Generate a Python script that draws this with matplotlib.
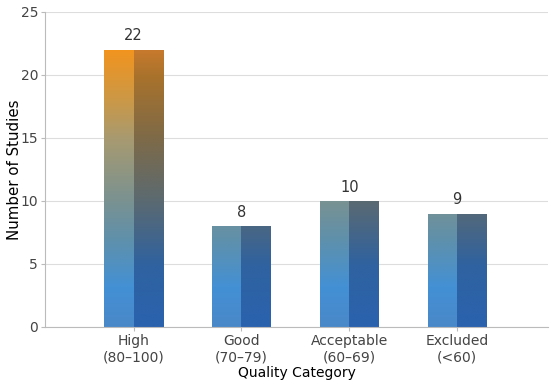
import numpy as np
import matplotlib
matplotlib.use('Agg')
import matplotlib.pyplot as plt
from matplotlib.colors import LinearSegmentedColormap
from matplotlib.patches import Rectangle

categories = ['High\n(80–100)', 'Good\n(70–79)', 'Acceptable\n(60–69)', 'Excluded\n(<60)']
counts = [22, 8, 10, 9]

# gradient colours follow the value axis (0 -> 22)
left_stops = [(0.0, '#4a88c8'), (0.14, '#4390d5'), (0.32, '#6090aa'),
              (0.46, '#7b9290'), (0.68, '#a89a70'), (0.82, '#cc9846'), (1.0, '#f2941e')]
right_stops = [(0.0, '#2a62ae'), (0.22, '#2f62a0'), (0.46, '#5c6a70'),
               (0.68, '#7e6a48'), (0.9, '#a8722c'), (1.0, '#c87a2c')]
cmap_l = LinearSegmentedColormap.from_list('l', left_stops)
cmap_r = LinearSegmentedColormap.from_list('r', right_stops)

fig = plt.figure(figsize=(5.5, 3.82), dpi=100)
ax = fig.add_axes([0.082, 0.144, 0.914, 0.825])

width = 0.55
ymax_grad = 22
grad = np.linspace(0, 1, 256).reshape(-1, 1)
x = np.arange(len(categories))
for xi, h in zip(x, counts):
    for side, cm in ((0, cmap_l), (1, cmap_r)):
        x0 = xi - width / 2 + side * width / 2
        im = ax.imshow(grad, cmap=cm, origin='lower', aspect='auto',
                       extent=[x0, x0 + width / 2, 0, ymax_grad], zorder=2)
        clip = Rectangle((x0, 0), width / 2, h, transform=ax.transData)
        im.set_clip_path(clip)
    ax.text(xi, h + 0.5, str(h), ha='center', va='bottom', fontsize=10.5, color='#333333')

ax.set_xlim(-0.82, 3.84)
ax.set_ylim(0, 25)
ax.set_yticks([0, 5, 10, 15, 20, 25])
ax.set_xticks(x)
ax.set_xticklabels(categories)
ax.grid(axis='y', color='#dddddd', linewidth=0.8, zorder=0)
ax.set_axisbelow(True)
for s in ['top', 'right']:
    ax.spines[s].set_visible(False)
for s in ['left', 'bottom']:
    ax.spines[s].set_color('#bbbbbb')
ax.tick_params(colors='#bbbbbb', labelcolor='#444444', labelsize=10, length=3, pad=2)
ax.set_xlabel('Quality Category', fontsize=10, labelpad=1)
ax.set_ylabel('Number of Studies', fontsize=10.8, labelpad=-1)

fig.savefig('out.png', dpi=100)
